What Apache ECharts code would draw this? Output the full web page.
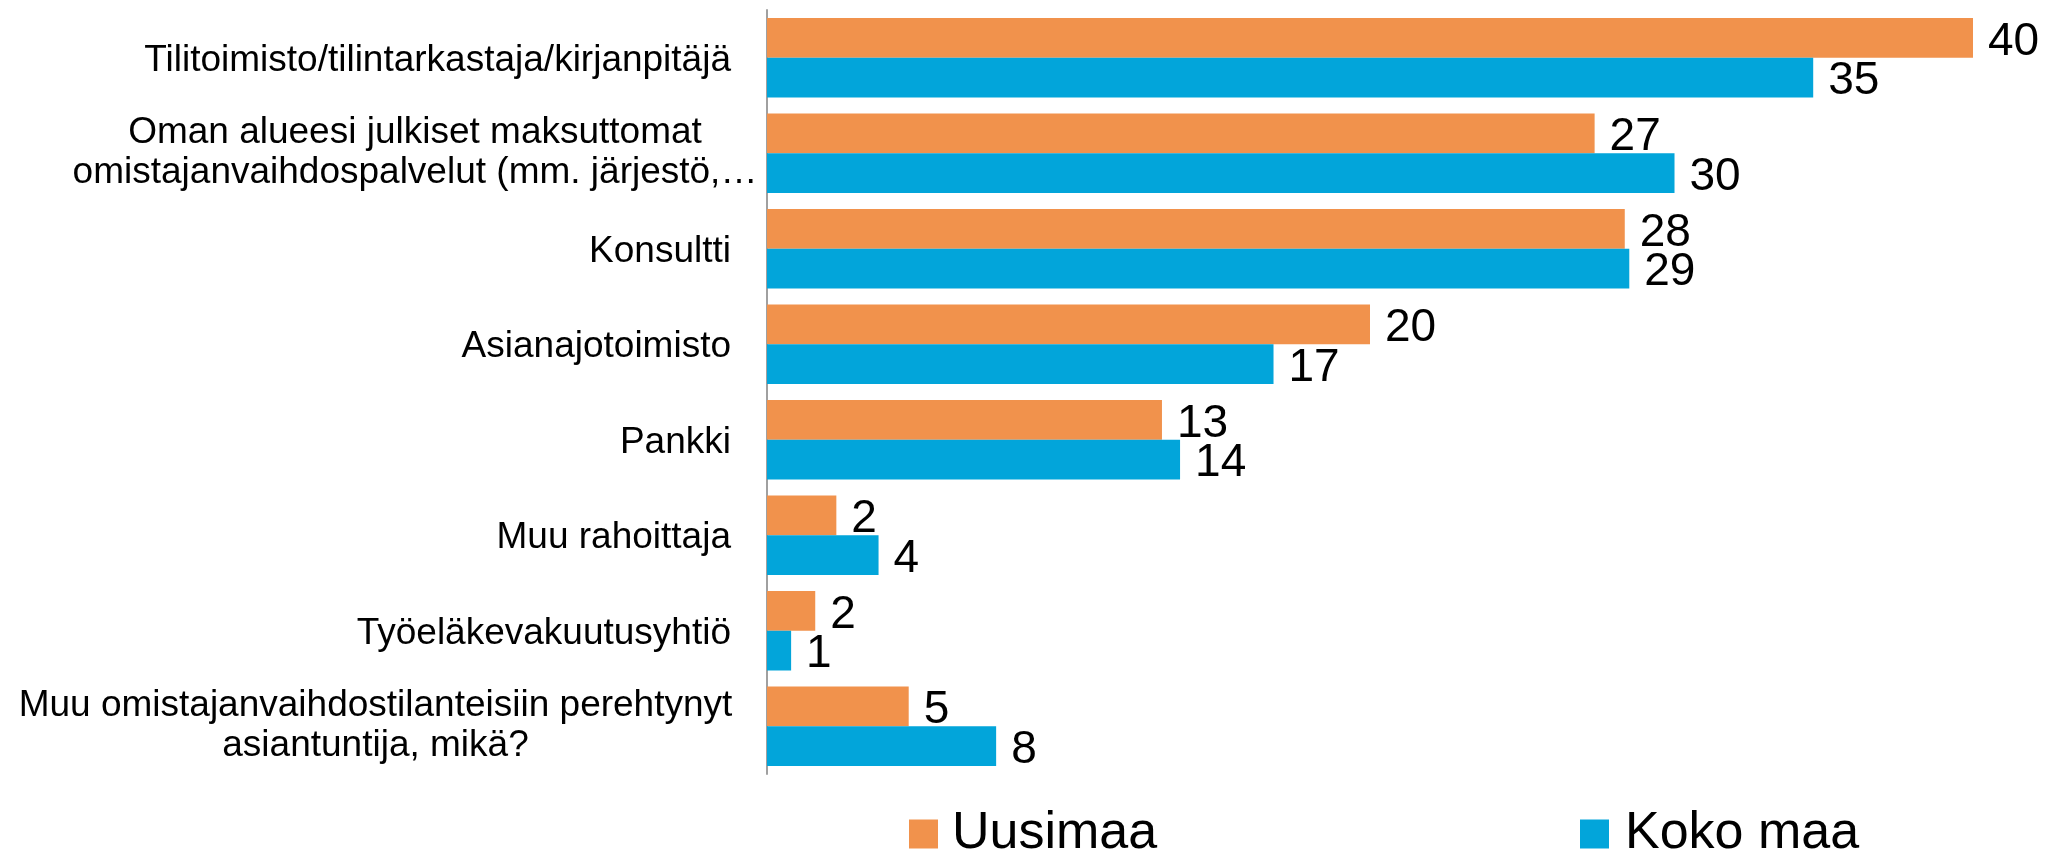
<!DOCTYPE html>
<html>
<head>
<meta charset="utf-8">
<script src="https://cdn.jsdelivr.net/npm/echarts@6/dist/echarts.min.js"></script>
<style>
  html, body { margin: 0; padding: 0; background: #fff; }
  #main { width: 2047px; height: 852px; }
</style>
</head>
<body>
<div id="main"></div>
<script>
// categories, top to bottom
const categories = [
  'Tilitoimisto/tilintarkastaja/kirjanpitäjä',
  'Oman alueesi julkiset maksuttomat\nomistajanvaihdospalvelut (mm. järjestö,…',
  'Konsultti',
  'Asianajotoimisto',
  'Pankki',
  'Muu rahoittaja',
  'Työeläkevakuutusyhtiö',
  'Muu omistajanvaihdostilanteisiin perehtynyt\nasiantuntija, mikä?'
];
const seriesNames = ['Uusimaa', 'Koko maa'];
// bar lengths (labels show them rounded)
const uusimaa = [40, 27.45, 28.45, 20, 13.1, 2.3, 1.6, 4.7];
const kokoMaa = [34.7, 30.1, 28.6, 16.8, 13.7, 3.7, 0.8, 7.6];

const FONT = '"Liberation Sans", Arial, sans-serif';
const ORANGE = '#F1924C';
const BLUE = '#02A5DA';

// category labels: single lines right aligned, wrapped lines centred in their block
function catLabel(value) {
  const lines = value.split('\n');
  if (lines.length === 1) return '{a|' + value + '}';
  if (value.indexOf('Oman') === 0) {
    return lines.map(l => '{o|' + l + '}').join('\n');
  }
  return lines.map(l => '{m|' + l + '}').join('\n');
}

const chart = echarts.init(document.getElementById('main'));
const labelStyle = {
  show: true,
  position: 'right',
  distance: 15,
  offset: [0, 4],
  color: '#000',
  fontSize: 46,
  fontFamily: FONT,
  formatter: p => Math.round(p.value)
};

chart.setOption({
  backgroundColor: '#fff',
  animation: false,
  grid: { left: 767, right: 74, top: 10, bottom: 78, containLabel: false },
  xAxis: {
    type: 'value',
    min: 0,
    max: 40,
    show: false
  },
  yAxis: {
    type: 'category',
    inverse: true,
    data: categories,
    axisLine: { show: true, lineStyle: { color: '#a0a0a0', width: 2 } },
    axisTick: { show: false },
    axisLabel: {
      margin: 2,
      color: '#000',
      fontSize: 37,
      fontFamily: FONT,
      lineHeight: 40,
      formatter: catLabel,
      rich: {
        a: { fontSize: 37, fontFamily: FONT, color: '#000', padding: [6, 34, 0, 0] },
        o: { fontSize: 37, fontFamily: FONT, color: '#000', lineHeight: 40, width: 700, align: 'center' },
        m: { fontSize: 37, fontFamily: FONT, color: '#000', lineHeight: 40, width: 711, align: 'center', padding: [0, 34, 0, 0] }
      }
    }
  },
  legend: [
    {
      data: [seriesNames[0]],
      left: 909,
      top: 808,
      padding: 0,
      icon: 'rect',
      itemWidth: 29,
      itemHeight: 29,
      textStyle: { fontSize: 52, fontFamily: FONT, color: '#000', padding: [0, 0, 0, 9] }
    },
    {
      data: [seriesNames[1]],
      left: 1580,
      top: 808,
      padding: 0,
      icon: 'rect',
      itemWidth: 29,
      itemHeight: 29,
      textStyle: { fontSize: 52, fontFamily: FONT, color: '#000', padding: [0, 0, 0, 11] }
    }
  ],
  series: [
    {
      name: seriesNames[0],
      type: 'bar',
      data: uusimaa,
      barGap: '0%',
      barCategoryGap: '17%',
      itemStyle: { color: ORANGE },
      label: labelStyle
    },
    {
      name: seriesNames[1],
      type: 'bar',
      data: kokoMaa,
      barGap: '0%',
      barCategoryGap: '17%',
      itemStyle: { color: BLUE },
      label: labelStyle
    }
  ]
});
</script>
</body>
</html>
